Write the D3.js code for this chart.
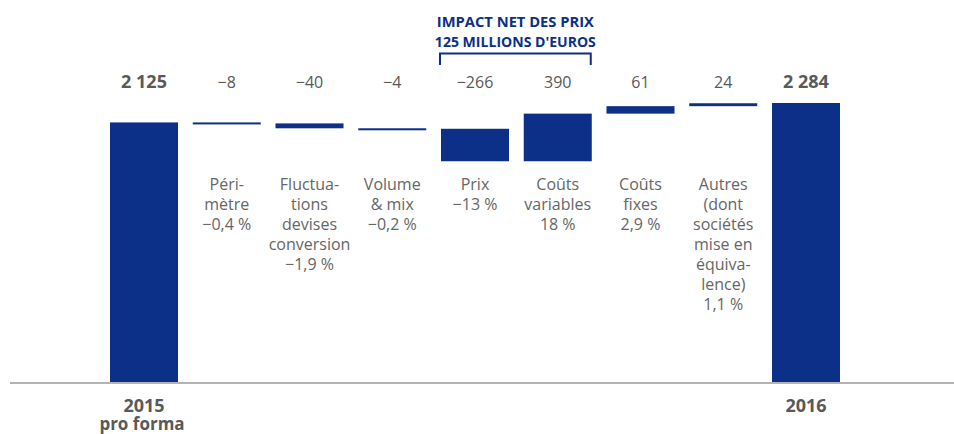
<!DOCTYPE html>
<html>
<head>
<meta charset="utf-8">
<script src="https://cdn.jsdelivr.net/npm/d3@7"></script>
<style>
  html, body { margin: 0; padding: 0; background: #fff; }
  svg { display: block; }
  text { font-family: "Open Sans", "DejaVu Sans", sans-serif; }
</style>
</head>
<body>
<svg id="chart" width="954" height="434"></svg>
<script>
// Bridge of operating result, 2015 pro forma to 2016 (millions of euros)
const categories = ["2015 pro forma", "Périmètre", "Fluctuations devises conversion", "Volume & mix",
  "Prix", "Coûts variables", "Coûts fixes", "Autres", "2016"];
const values = [2125, -8, -40, -4, -266, 390, 61, 24, 2284];
const kinds = ["total", "delta", "delta", "delta", "delta", "delta", "delta", "delta", "total"];
const categoryLines = [
  [],
  ["Péri-", "mètre", "−0,4 %"],
  ["Fluctua-", "tions", "devises", "conversion", "−1,9 %"],
  ["Volume", "& mix", "−0,2 %"],
  ["Prix", "−13 %"],
  ["Coûts", "variables", "18 %"],
  ["Coûts", "fixes", "2,9 %"],
  ["Autres", "(dont", "sociétés", "mise en", "équiva-", "lence)", "1,1 %"],
  []
];
const axisLines = [["2015", "pro forma"], [], [], [], [], [], [], [], ["2016"]];
const bracketCategories = ["Prix", "Coûts variables"];
const headerLines = ["IMPACT NET DES PRIX", "125 MILLIONS D'EUROS"];

const NAVY = "#0c2f87";
const GREY = "#595959";

const svg = d3.select("#chart");

const x = d3.scaleBand().domain(categories).range([110, 840]).paddingInner(0.178).paddingOuter(0);
const y = d3.scaleLinear().domain([0, 2284]).range([382, 103]);

const fr = d3.formatLocale({ decimal: ",", thousands: " ", grouping: [3], currency: ["", " €"], minus: "−" });
const fmt = fr.format(",");

// running totals for the floating bars
let running = 0;
const bars = categories.map((c, i) => {
  let y0, y1;
  if (kinds[i] === "total") {
    running = values[i];
    y0 = 0; y1 = values[i];
  } else {
    y0 = running; y1 = running + values[i];
    running = y1;
  }
  return { c, v: values[i], kind: kinds[i], lo: Math.min(y0, y1), hi: Math.max(y0, y1) };
});

// baseline
svg.append("line")
  .attr("x1", 10).attr("x2", 954)
  .attr("y1", y(0) + 1).attr("y2", y(0) + 1)
  .attr("stroke", "#b3b3b3").attr("stroke-width", 2);

// bars
svg.append("g").selectAll("rect").data(bars).join("rect")
  .attr("x", d => x(d.c))
  .attr("width", x.bandwidth())
  .attr("y", d => y(d.hi))
  .attr("height", d => Math.max(2, y(d.lo) - y(d.hi)))
  .attr("fill", NAVY);

// value labels above each bar
svg.append("g").selectAll("text").data(bars).join("text")
  .attr("x", d => x(d.c) + x.bandwidth() / 2)
  .attr("y", 88)
  .attr("text-anchor", "middle")
  .attr("font-size", d => d.kind === "total" ? 18 : 16)
  .attr("font-weight", d => d.kind === "total" ? 700 : 400)
  .attr("fill", GREY)
  .text(d => fmt(d.v));

// category descriptions under the floating bars
categories.forEach((c, i) => {
  const t = svg.append("text")
    .attr("x", x(c) + x.bandwidth() / 2)
    .attr("y", 189.5)
    .attr("text-anchor", "middle")
    .attr("font-size", 16)
    .attr("fill", "#666");
  categoryLines[i].forEach((line, j) => {
    t.append("tspan")
      .attr("x", x(c) + x.bandwidth() / 2)
      .attr("dy", j === 0 ? 0 : 20.1)
      .text(line);
  });
});

// totals' labels under the baseline
categories.forEach((c, i) => {
  axisLines[i].forEach((line, j) => {
    svg.append("text")
      .attr("x", x(c) + x.bandwidth() / 2 - (j > 0 ? 2 : 0))
      .attr("y", 412 + j * 18)
      .attr("text-anchor", "middle")
      .attr("font-size", j === 0 ? 18 : 17)
      .attr("font-weight", 700)
      .attr("fill", GREY)
      .text(line);
  });
});

// bracket grouping the price effect
const bx0 = x(bracketCategories[0]) - 1;
const bx1 = x(bracketCategories[1]) + x.bandwidth() - 1;
svg.append("path")
  .attr("d", `M${bx0},65V53.5H${bx1}V65`)
  .attr("fill", "none")
  .attr("stroke", NAVY)
  .attr("stroke-width", 2);

const bmid = (bx0 + bx1) / 2;
headerLines.forEach((line, j) => {
  svg.append("text")
    .attr("x", bmid)
    .attr("y", 27 + j * 19.5)
    .attr("text-anchor", "middle")
    .attr("font-size", 15)
    .attr("font-weight", 700)
    .attr("fill", NAVY)
    .attr("textLength", j === 0 ? 157 : 161)
    .attr("lengthAdjust", "spacingAndGlyphs")
    .text(line);
});
</script>
</body>
</html>
